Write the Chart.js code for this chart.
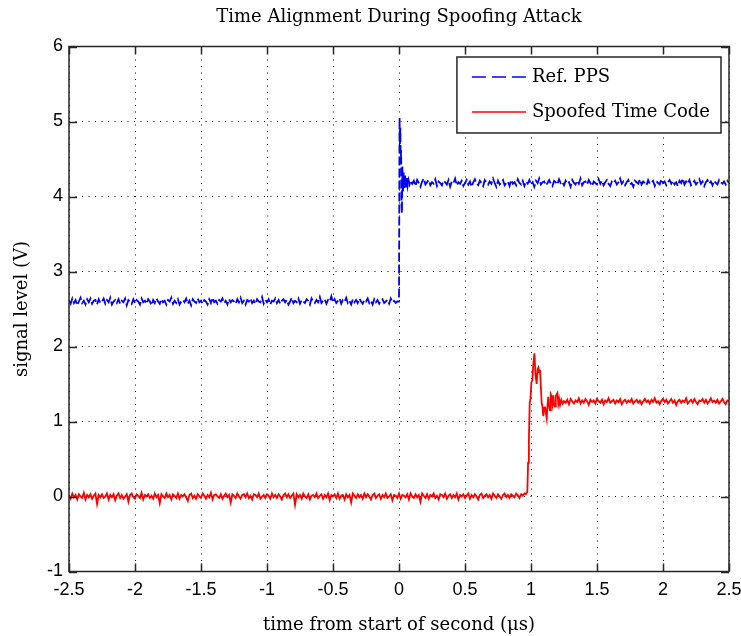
<!DOCTYPE html>
<html>
<head>
<meta charset="utf-8">
<script src="https://cdn.jsdelivr.net/npm/chart.js@4/dist/chart.umd.min.js"></script>
<style>
  html, body { margin: 0; padding: 0; background: #fff; }
  canvas { display: block; }
</style>
</head>
<body>
<canvas id="chart" width="741" height="636"></canvas>
<script>
// sample spacing of the noisy stretches (µs)
const DT = 0.0125;

const TITLE = "Time Alignment During Spoofing Attack";

// Ref. PPS, before the edge: samples from -2.5 µs
const bluePreY = [
  2.61,2.57,2.64,2.58,2.62,2.55,2.60,2.65,2.58,2.61,
  2.56,2.63,2.59,2.64,2.57,2.61,2.62,2.56,2.63,2.58,
  2.60,2.64,2.57,2.62,2.59,2.65,2.56,2.60,2.62,2.58,
  2.63,2.57,2.61,2.59,2.64,2.55,2.62,2.60,2.57,2.63,
  2.58,2.62,2.60,2.56,2.64,2.59,2.61,2.57,2.63,2.60,
  2.55,2.62,2.58,2.64,2.60,2.57,2.63,2.59,2.61,2.56,
  2.62,2.60,2.65,2.57,2.61,2.58,2.63,2.56,2.60,2.62,
  2.59,2.64,2.57,2.61,2.55,2.63,2.60,2.58,2.64,2.59,
  2.61,2.57,2.62,2.60,2.56,2.63,2.58,2.65,2.59,2.61,
  2.57,2.62,2.60,2.64,2.58,2.61,2.56,2.63,2.59,2.62,
  2.60,2.57,2.63,2.59,2.65,2.58,2.61,2.56,2.62,2.60,
  2.64,2.58,2.61,2.57,2.63,2.60,2.59,2.66,2.57,2.62,
  2.59,2.63,2.56,2.61,2.60,2.64,2.58,2.62,2.57,2.61,
  2.63,2.59,2.62,2.56,2.60,2.65,2.58,2.61,2.59,2.64,
  2.57,2.62,2.60,2.58,2.63,2.61,2.56,2.64,2.60,2.58,
  2.62,2.59,2.66,2.58,2.61,2.63,2.57,2.62,2.60,2.67,
  2.59,2.63,2.58,2.61,2.64,2.57,2.62,2.60,2.65,2.58,
  2.61,2.56,2.63,2.59,2.62,2.58,2.64,2.60,2.57,2.62,
  2.60,2.64,2.58,2.61,2.56,2.63,2.59,2.62,2.57,2.61,
  2.63,2.58,2.60,2.62,2.57,2.64,2.59,2.61,2.58,2.60
];
// Ref. PPS edge and ringing
const blueEdgeX = [0, 0.004, 0.007, 0.01, 0.013, 0.016, 0.019, 0.022, 0.026, 0.03,
                   0.035, 0.04, 0.046, 0.052, 0.058, 0.065, 0.072, 0.08, 0.088];
const blueEdgeY = [2.60, 5.05, 4.70, 4.92, 4.45, 4.62, 3.90, 3.78, 4.40, 4.05,
                   4.32, 4.10, 4.28, 4.12, 4.26, 4.14, 4.22, 4.16, 4.21];
// Ref. PPS, settled: samples from 0.1 µs
const bluePostY = [
  4.17,4.21,4.14,4.22,4.18,4.13,4.20,4.24,4.16,4.19,
  4.22,4.15,4.19,4.17,4.23,4.14,4.20,4.18,4.15,4.21,
  4.19,4.16,4.22,4.13,4.20,4.18,4.24,4.15,4.19,4.17,
  4.21,4.14,4.18,4.22,4.16,4.20,4.13,4.19,4.23,4.17,
  4.15,4.21,4.18,4.14,4.22,4.19,4.16,4.20,4.17,4.24,
  4.18,4.13,4.21,4.16,4.19,4.22,4.15,4.18,4.20,4.14,
  4.22,4.17,4.19,4.15,4.23,4.18,4.16,4.21,4.14,4.20,
  4.17,4.22,4.16,4.19,4.13,4.21,4.18,4.24,4.16,4.19,
  4.20,4.15,4.18,4.22,4.17,4.14,4.21,4.19,4.16,4.23,
  4.18,4.20,4.15,4.21,4.17,4.19,4.13,4.22,4.18,4.16,
  4.21,4.17,4.24,4.15,4.19,4.20,4.16,4.22,4.18,4.14,
  4.20,4.18,4.16,4.23,4.17,4.21,4.15,4.19,4.22,4.17,
  4.14,4.20,4.18,4.21,4.16,4.19,4.24,4.17,4.20,4.15,
  4.19,4.22,4.16,4.18,4.13,4.21,4.19,4.17,4.23,4.16,
  4.20,4.18,4.15,4.22,4.17,4.19,4.21,4.14,4.20,4.18,
  4.16,4.23,4.18,4.20,4.15,4.19,4.22,4.17,4.21,4.16,
  4.19,4.14,4.21,4.18,4.24,4.16,4.20,4.17,4.22,4.15,
  4.18,4.21,4.16,4.19,4.23,4.17,4.20,4.14,4.19,4.22,
  4.17,4.20,4.15,4.21,4.18,4.16,4.22,4.19,4.17,4.20,
  4.16,4.21,4.18
];

// Spoofed time code, before the edge: samples from -2.5 µs
const redPreY = [
  0.01,-0.03,0.04,-0.01,0.02,-0.04,0.03,0.00,-0.02,0.05,
  -0.04,0.02,-0.01,0.03,-0.03,0.01,0.04,-0.10,0.02,-0.01,
  0.03,-0.02,0.00,0.04,-0.04,0.02,-0.01,0.03,-0.05,0.01,
  0.04,-0.02,0.02,-0.03,0.00,0.03,-0.07,0.02,0.04,-0.01,
  -0.03,0.03,0.01,-0.02,0.05,-0.04,0.02,0.00,0.03,-0.02,
  0.01,-0.03,0.04,-0.01,0.02,-0.09,0.03,0.00,-0.02,0.04,
  -0.01,0.02,-0.04,0.03,0.01,-0.02,0.04,-0.03,0.02,0.00,
  0.03,-0.01,-0.06,0.02,0.04,-0.02,0.01,-0.03,0.03,0.00,
  -0.02,0.04,0.01,-0.03,0.02,-0.01,0.05,-0.04,0.02,0.03,
  0.00,-0.02,0.03,-0.03,0.01,0.04,-0.01,0.02,-0.08,0.03,
  0.01,-0.02,0.04,0.00,-0.03,0.02,0.03,-0.01,0.04,-0.02,
  0.01,-0.04,0.03,0.02,-0.01,0.04,-0.03,0.00,0.02,-0.02,
  0.03,0.01,-0.03,0.04,-0.01,0.02,-0.02,0.03,0.00,-0.04,
  0.02,0.04,-0.01,0.03,-0.02,0.01,0.04,-0.11,0.03,-0.01,
  0.02,-0.03,0.04,0.00,-0.02,0.03,-0.04,0.01,0.02,-0.01,
  0.04,-0.02,0.01,0.03,-0.03,0.02,-0.01,0.04,-0.05,0.02,
  0.00,0.03,-0.02,0.04,-0.03,0.01,0.02,-0.04,0.03,-0.01,
  0.02,-0.08,0.04,0.01,-0.02,0.03,-0.01,0.02,-0.03,0.04,
  -0.01,0.03,0.00,-0.04,0.02,0.04,-0.02,0.01,0.03,-0.03,
  0.02,-0.01,0.04,-0.02,0.00,0.03,-0.05,0.02,0.01,-0.02,
  0.04,-0.03,0.02,0.01,-0.01,0.03,-0.04,0.04,0.00,-0.02,
  0.03,-0.01,0.02,-0.07,0.04,0.01,-0.02,0.03,-0.03,0.02,
  0.00,0.04,-0.02,0.01,-0.04,0.03,0.02,-0.01,0.04,-0.03,
  0.01,0.03,-0.02,0.02,-0.01,0.04,-0.04,0.02,0.00,0.03,
  -0.02,0.01,0.04,-0.03,0.02,-0.01,0.03,0.00,-0.04,0.02,
  0.04,-0.02,0.01,0.03,-0.01,0.02,-0.03,0.04,0.01,-0.02,
  0.03,0.00,-0.03,0.02,0.04,-0.01,0.02,-0.02,0.03,0.01,
  -0.01,0.04,0.02,-0.02,0.03,0.01,0.04
];
// Spoofed time code edge and ringing
const redEdgeX = [
  0.96, 0.972, 0.978, 0.984, 0.99, 0.996, 1.003, 1.01, 1.018, 1.026,
  1.034, 1.043, 1.05, 1.056, 1.062, 1.068, 1.075, 1.081, 1.087, 1.093,
  1.1, 1.106, 1.112, 1.119, 1.125, 1.131, 1.138, 1.144, 1.15, 1.157,
  1.163, 1.169, 1.175, 1.182, 1.188, 1.194, 1.2, 1.207, 1.213, 1.22,
  1.23, 1.24, 1.25
];
const redEdgeY = [
  0.03, 0.06, 0.45, 0.74, 1.25, 1.30, 1.52, 1.55, 1.78, 1.91,
  1.62, 1.50, 1.70, 1.72, 1.66, 1.69, 1.45, 1.24, 1.20, 1.07,
  1.18, 1.20, 1.12, 1.04, 1.22, 1.33, 1.20, 1.15, 1.36, 1.33,
  1.24, 1.35, 1.22, 1.20, 1.34, 1.36, 1.38, 1.24, 1.30, 1.22,
  1.29, 1.24, 1.27
];
// Spoofed time code, settled: samples from 1.2625 µs
const redPostY = [
  1.25,1.29,1.23,1.30,1.27,1.24,1.28,1.26,1.31,1.24,
  1.28,1.25,1.30,1.27,1.22,1.29,1.26,1.28,1.24,1.30,
  1.27,1.25,1.29,1.23,1.28,1.26,1.31,1.25,1.27,1.29,
  1.24,1.28,1.26,1.30,1.23,1.27,1.29,1.25,1.28,1.26,
  1.30,1.24,1.27,1.29,1.25,1.28,1.23,1.27,1.30,1.26,
  1.28,1.24,1.29,1.26,1.31,1.25,1.27,1.23,1.28,1.30,
  1.26,1.29,1.24,1.27,1.30,1.25,1.28,1.22,1.27,1.29,
  1.25,1.28,1.26,1.31,1.24,1.27,1.29,1.25,1.30,1.26,
  1.23,1.28,1.27,1.30,1.25,1.29,1.24,1.27,1.31,1.26,
  1.28,1.25,1.29,1.24,1.27,1.30,1.26,1.23,1.28,1.27
];

const xTicks = [-2.5, -2, -1.5, -1, -0.5, 0, 0.5, 1, 1.5, 2, 2.5];
const yTicks = [-1, 0, 1, 2, 3, 4, 5, 6];

function onGrid(t0, ys){ return ys.map((y,i)=>({ x: +(t0 + i*DT).toFixed(4), y })); }
function paired(xs, ys){ return xs.map((x,i)=>({ x, y: ys[i] })); }

const bluePts = [...onGrid(-2.5, bluePreY), ...paired(blueEdgeX, blueEdgeY), ...onGrid(0.1, bluePostY)];
const redPts = [...onGrid(-2.5, redPreY), ...paired(redEdgeX, redEdgeY), ...onGrid(1.2625, redPostY)];

const SERIF = "'DejaVu Serif', 'Liberation Serif', serif";
const SANS = "'Liberation Sans', Arial, sans-serif";
const AXIS = "#262626";

// solid box with inward tick marks, matlab style
const boxPlugin = {
  id: "box",
  afterDatasetsDraw(chart){
    const {ctx, chartArea:a, scales:{x, y}} = chart;
    const len = 8;
    ctx.save();
    ctx.strokeStyle = AXIS;
    ctx.lineWidth = 1.5;
    ctx.setLineDash([]);
    ctx.strokeRect(a.left, a.top, a.right - a.left, a.bottom - a.top);
    ctx.beginPath();
    xTicks.forEach(v=>{
      const px = Math.round(x.getPixelForValue(v)) + 0.5;
      ctx.moveTo(px, a.bottom); ctx.lineTo(px, a.bottom - len);
      ctx.moveTo(px, a.top); ctx.lineTo(px, a.top + len);
    });
    yTicks.forEach(v=>{
      const py = Math.round(y.getPixelForValue(v)) + 0.5;
      ctx.moveTo(a.left, py); ctx.lineTo(a.left + len, py);
      ctx.moveTo(a.right, py); ctx.lineTo(a.right - len, py);
    });
    ctx.stroke();
    // title centred over the axes, not the canvas
    ctx.fillStyle = "#000";
    ctx.font = "18px " + SERIF;
    ctx.textAlign = "center";
    ctx.textBaseline = "middle";
    ctx.fillText(TITLE, (a.left + a.right) / 2, 17.6);
    ctx.restore();
  }
};

// legend box inside the axes, top right
const legendPlugin = {
  id: "boxLegend",
  afterDraw(chart){
    const {ctx, chartArea:a} = chart;
    const sets = chart.data.datasets;
    ctx.save();
    ctx.font = "18px " + SERIF;
    const tw = Math.max(...sets.map(d=>ctx.measureText(d.label).width));
    const padL = 15, sample = 54, gap = 6, padR = 11, rowH = 35;
    const w = padL + sample + gap + tw + padR;
    const h = 76;
    const left = a.right - 8 - w, top = a.top + 10.5;
    ctx.fillStyle = "#fff";
    ctx.fillRect(left, top, w, h);
    ctx.strokeStyle = AXIS;
    ctx.lineWidth = 1.5;
    ctx.strokeRect(left, top, w, h);
    sets.forEach((d,i)=>{
      const cy = top + 20 + i*rowH;
      ctx.beginPath();
      ctx.strokeStyle = d.borderColor;
      ctx.lineWidth = 1.5;
      ctx.setLineDash(d.legendDash || []);
      ctx.moveTo(left + padL, cy);
      ctx.lineTo(left + padL + sample, cy);
      ctx.stroke();
      ctx.setLineDash([]);
      ctx.fillStyle = "#000";
      ctx.textBaseline = "middle";
      ctx.textAlign = "left";
      ctx.fillText(d.label, left + padL + sample + gap, cy);
    });
    ctx.restore();
  }
};

const gridOpts = { color: "#000", lineWidth: 1, drawTicks: false };
const tickLabel = v => String(v);

new Chart(document.getElementById("chart"), {
  type: "line",
  data: {
    datasets: [
      { label: "Ref. PPS", data: bluePts, borderColor: "#0000ff", borderWidth: 1.8,
        borderDash: [9,3], legendDash: [14,6], pointRadius: 0, tension: 0 },
      { label: "Spoofed Time Code", data: redPts, borderColor: "#ff0000", borderWidth: 1.8,
        pointRadius: 0, tension: 0 }
    ]
  },
  options: {
    responsive: false,
    animation: false,
    events: [],
    layout: { padding: { left: 0, right: 12, top: 46.5, bottom: 0 } },
    scales: {
      x: {
        type: "linear", min: -2.5, max: 2.5,
        afterBuildTicks: s => { s.ticks = xTicks.map(v=>({ value: v })); },
        afterFit: s => { s.height = 64.5; s.paddingLeft = 0; s.paddingRight = 0; },
        ticks: { color: "#000", padding: 8, font: { family: SANS, size: 18 }, callback: tickLabel },
        grid: gridOpts,
        border: { display: false, dash: [1,5.5] },
        title: { display: true, text: "time from start of second (\u03bcs)", color: "#000",
                 font: { family: SERIF, size: 18 }, padding: { top: 0, bottom: 0.2 } }
      },
      y: {
        type: "linear", min: -1, max: 6,
        afterBuildTicks: s => { s.ticks = yTicks.map(v=>({ value: v })); },
        afterFit: s => { s.width = 69; s.paddingTop = 0; s.paddingBottom = 0; },
        ticks: { color: "#000", padding: 6, font: { family: SANS, size: 18 }, callback: tickLabel },
        grid: gridOpts,
        border: { display: false, dash: [1,5.5] },
        title: { display: true, text: "signal level (V)", color: "#000",
                 font: { family: SERIF, size: 18 }, padding: { top: 11.2, bottom: 0 } }
      }
    },
    plugins: {
      legend: { display: false },
      tooltip: { enabled: false },
      title: { display: false }
    }
  },
  plugins: [boxPlugin, legendPlugin]
});
</script>
</body>
</html>
